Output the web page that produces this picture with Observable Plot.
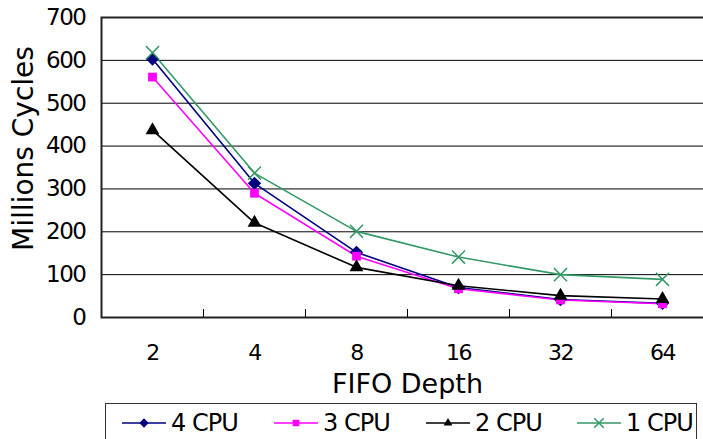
<!DOCTYPE html>
<html><head><meta charset="utf-8">
<script src="https://cdn.jsdelivr.net/npm/d3@7"></script>
<script src="https://cdn.jsdelivr.net/npm/@observablehq/plot@0.6"></script>
<style>
html,body{margin:0;padding:0;background:#fff;overflow:hidden;}
body{width:703px;height:439px;position:relative;font-family:"DejaVu Sans",sans-serif;}
#chart{position:absolute;left:0;top:0;}
#chart g[aria-label="y-axis tick label"] text,
#chart g[aria-label="x-axis tick label"] text{letter-spacing:-1.5px;}
#legend{position:absolute;left:105px;top:403px;width:592px;height:44px;border:1px solid #333;box-sizing:border-box;background:#fff;}
.item{position:absolute;top:0;height:38px;display:flex;align-items:center;font-size:24px;letter-spacing:-1px;color:#000;}
.item svg{margin-right:5px;}
</style></head>
<body><div id="chart"></div><div id="legend"></div>
<script>
const depths = ["2", "4", "8", "16", "32", "64"];
const cpu4 = [603, 313, 152, 70, 42, 33];
const cpu3 = [561, 290, 143, 67, 41, 32];
const cpu2 = [437, 221, 117, 74, 51, 43];
const cpu1 = [618, 337, 201, 141, 100, 89];
const seriesNames = ["4 CPU", "3 CPU", "2 CPU", "1 CPU"];
const seriesColors = ["#000080", "#ff00ff", "#000000", "#339966"];
const seriesSymbols = ["diamond2", "square2", "triangle2", "times"];
const yTicks = [0, 100, 200, 300, 400, 500, 600, 700];
const yTitle = "Millions Cycles";
const xTitle = "FIFO Depth";

const seriesValues = [cpu4, cpu3, cpu2, cpu1];
const rows = [];
seriesValues.forEach((vals, s) => vals.forEach((v, i) => rows.push({i, depth: depths[i], value: v, series: seriesNames[s]})));
const idx = depths.map((d, i) => i);
const bounds = depths.slice(1).map((d, i) => i + 0.5);
const symR = {diamond2: 6, square2: 5.6, triangle2: 6.6, times: 6};

const dots = seriesNames.map((name, s) => {
  const filled = seriesSymbols[s] !== "times";
  return Plot.dot(rows.filter(r => r.series === name), {
    x: "i", y: "value", symbol: () => seriesSymbols[s],
    r: symR[seriesSymbols[s]],
    fill: filled ? seriesColors[s] : "none",
    stroke: filled ? "none" : seriesColors[s], strokeWidth: 1.5
  });
});

const chart = Plot.plot({
  width: 703, height: 403,
  marginTop: 17, marginBottom: 86, marginLeft: 101, marginRight: -10,
  style: {fontFamily: "DejaVu Sans", background: "transparent", overflow: "visible"},
  x: {domain: [-0.5, depths.length - 0.5]},
  y: {domain: [0, 700]},
  color: {domain: seriesNames, range: seriesColors},
  symbol: {domain: seriesSymbols, range: seriesSymbols},
  marks: [
    Plot.gridY(yTicks.slice(1, -1), {stroke: "#000", strokeOpacity: 1, strokeWidth: 1}),
    Plot.frame({stroke: "#222", strokeWidth: 2}),
    Plot.axisY(yTicks, {tickSize: 0, tickPadding: 16, fontSize: 23, label: null, fill: "#000"}),
    Plot.axisX(bounds, {tickSize: -8, tickFormat: () => "", label: null, stroke: "#000"}),
    Plot.axisX(idx, {tickSize: 0, tickPadding: 27, tickFormat: i => depths[i], fontSize: 22, label: null, fill: "#000"}),
    Plot.line(rows, {x: "i", y: "value", z: "series", stroke: "series", strokeWidth: 1.6}),
    ...dots,
    Plot.text([xTitle], {text: d => d, frameAnchor: "bottom", dy: 67, fontSize: 27, fill: "#000", lineAnchor: "middle"}),
    Plot.text([yTitle], {text: d => d, frameAnchor: "left", textAnchor: "middle", rotate: -90, dx: -77, dy: -19, fontSize: 28, fill: "#000", lineAnchor: "middle"})
  ]
});
document.getElementById("chart").appendChild(chart);

const legend = document.getElementById("legend");
const itemLeft = [16, 168, 320, 471];
seriesNames.forEach((name, s) => {
  const div = document.createElement("div");
  div.className = "item";
  div.style.left = itemLeft[s] + "px";
  const sym = d3.symbol(
    {diamond2: d3.symbolDiamond2, square2: d3.symbolSquare2, triangle2: d3.symbolTriangle2, times: d3.symbolTimes}[seriesSymbols[s]],
    seriesSymbols[s] === "times" ? 60 : 55)();
  const filled = seriesSymbols[s] !== "times";
  div.innerHTML = `<svg width="44" height="20"><line x1="0" x2="44" y1="10" y2="10" stroke="${seriesColors[s]}" stroke-width="1.5"/><path transform="translate(22,10)" d="${sym}" fill="${filled ? seriesColors[s] : "none"}" stroke="${filled ? "none" : seriesColors[s]}" stroke-width="1.5"/></svg><span>${name}</span>`;
  legend.appendChild(div);
});
</script>
</body></html>
